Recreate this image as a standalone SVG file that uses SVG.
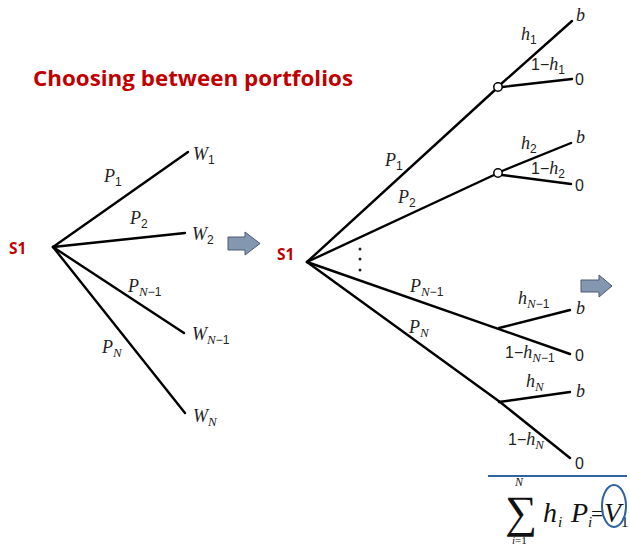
<svg xmlns="http://www.w3.org/2000/svg" width="630" height="547" viewBox="0 0 630 547">
<style>
.ln{stroke:#000;stroke-width:2.4;fill:none;stroke-linecap:round}
.v{font-family:"Liberation Serif",serif;font-style:italic;font-size:18px;fill:#222}
.s{font-size:13px}
.d{font-family:"Liberation Sans",sans-serif;font-style:normal;font-size:12px}
.n{font-family:"Liberation Sans",sans-serif;font-size:16px;fill:#222}
.red{font-family:"Open Sans","Liberation Sans",sans-serif;font-weight:bold;fill:#c00000}
.arr{fill:#8497b0;stroke:#4a5a70;stroke-width:1}
.f{font-family:"Liberation Serif",serif;fill:#111}
</style>
<rect width="630" height="547" fill="#fff"/>
<text class="red" x="33" y="86" font-size="21.5" textLength="320" lengthAdjust="spacingAndGlyphs">Choosing between portfolios</text>

<g id="left-tree">
<text class="red" x="9" y="254" font-size="15.5">S1</text>
<g id="connectors-left">
<line class="ln" x1="53" y1="247" x2="188" y2="152"/>
<line class="ln" x1="53" y1="247" x2="185" y2="233"/>
<line class="ln" x1="53" y1="247" x2="184" y2="333"/>
<line class="ln" x1="53" y1="247" x2="185" y2="413"/>
</g>
<text class="v" x="104" y="182">P<tspan class="d" dy="4">1</tspan></text>
<text class="v" x="130" y="224">P<tspan class="d" dy="4">2</tspan></text>
<text class="v" x="128" y="292">P<tspan class="s" dy="4">N</tspan><tspan class="d">−1</tspan></text>
<text class="v" x="102" y="353">P<tspan class="s" dy="4">N</tspan></text>
<text class="v" x="193" y="160">W<tspan class="d" dy="4">1</tspan></text>
<text class="v" x="192" y="240">W<tspan class="d" dy="4">2</tspan></text>
<text class="v" x="192" y="340">W<tspan class="s" dy="4">N</tspan><tspan class="d">−1</tspan></text>
<text class="v" x="193" y="422">W<tspan class="s" dy="4">N</tspan></text>
</g>

<g id="arrow1"><path class="arr" d="M228,237 H245 V232 L260,243.5 L245,255 V250 H228 Z"/></g>

<g id="right-tree">
<text class="red" x="277" y="260" font-size="15.5">S1</text>
<g id="connectors-right">
<line class="ln" x1="307" y1="262" x2="495" y2="90"/>
<line class="ln" x1="501" y1="84" x2="572" y2="21"/>
<line class="ln" x1="502" y1="87" x2="572" y2="79"/>
<line class="ln" x1="307" y1="262" x2="494" y2="175"/>
<line class="ln" x1="502" y1="171" x2="571" y2="143"/>
<line class="ln" x1="502" y1="175" x2="571" y2="184"/>
<line class="ln" x1="307" y1="262" x2="570" y2="354"/>
<line class="ln" x1="499" y1="328" x2="570" y2="310"/>
<line class="ln" x1="307" y1="262" x2="500" y2="402"/>
<line class="ln" x1="500" y1="402" x2="570" y2="458"/>
<line class="ln" x1="499" y1="402" x2="570" y2="392"/>
</g>
<circle cx="498" cy="87" r="4.2" fill="#fff" stroke="#000" stroke-width="1.5"/>
<circle cx="498" cy="173" r="4.2" fill="#fff" stroke="#000" stroke-width="1.5"/>
<circle cx="360" cy="249" r="1.5" fill="#222"/>
<circle cx="360" cy="259" r="1.5" fill="#222"/>
<circle cx="360" cy="270" r="1.5" fill="#222"/>
<text class="v" x="385" y="166">P<tspan class="d" dy="4">1</tspan></text>
<text class="v" x="398" y="203">P<tspan class="d" dy="4">2</tspan></text>
<text class="v" x="410" y="292">P<tspan class="s" dy="4">N</tspan><tspan class="d">−1</tspan></text>
<text class="v" x="409" y="333">P<tspan class="s" dy="4">N</tspan></text>
<text class="v" x="521" y="40">h<tspan class="d" dy="4">1</tspan></text>
<text class="n" x="531" y="70">1−<tspan font-family="Liberation Serif" font-style="italic" font-size="18">h</tspan><tspan class="d" dy="4">1</tspan></text>
<text class="v" x="576" y="21">b</text>
<text class="n" x="575" y="85">0</text>
<text class="v" x="521" y="149">h<tspan class="d" dy="4">2</tspan></text>
<text class="n" x="531" y="174">1−<tspan font-family="Liberation Serif" font-style="italic" font-size="18">h</tspan><tspan class="d" dy="4">2</tspan></text>
<text class="v" x="576" y="143">b</text>
<text class="n" x="575" y="191">0</text>
<text class="v" x="518" y="304">h<tspan class="s" dy="4">N</tspan><tspan class="d">−1</tspan></text>
<text class="v" x="576" y="314">b</text>
<text class="n" x="505" y="358">1−<tspan font-family="Liberation Serif" font-style="italic" font-size="18">h</tspan><tspan class="s" dy="4" font-family="Liberation Serif" font-style="italic">N</tspan><tspan class="d">−1</tspan></text>
<text class="n" x="575" y="361">0</text>
<text class="v" x="526" y="387">h<tspan class="s" dy="4">N</tspan></text>
<text class="v" x="576" y="397">b</text>
<text class="n" x="508" y="445">1−<tspan font-family="Liberation Serif" font-style="italic" font-size="18">h</tspan><tspan class="s" dy="4" font-family="Liberation Serif" font-style="italic">N</tspan></text>
<text class="n" x="575" y="469">0</text>
</g>

<g id="arrow2"><path class="arr" d="M581,280 H599 V275 L612,286 L599,297 V292 H581 Z"/></g>

<g id="formula">
<line x1="488" y1="476" x2="627" y2="476" stroke="#2e63a0" stroke-width="2"/>
<text class="f" x="515" y="486" font-style="italic" font-size="12">N</text>
<text class="f" x="505" y="527" font-size="45">∑</text>
<text class="f" x="512" y="544" font-size="11"><tspan font-style="italic">i</tspan>=1</text>
<text class="f" x="543" y="522" font-style="italic" font-size="28">h</text>
<text class="f" x="558" y="527" font-style="italic" font-size="15">i</text>
<text class="f" x="571" y="522" font-style="italic" font-size="28">P</text>
<text class="f" x="588" y="527" font-style="italic" font-size="15">i</text>
<text class="f" x="591" y="521" font-size="22">=</text>
<text class="f" x="604" y="522" font-style="italic" font-size="28">V</text>
<text class="f" x="621" y="527" font-size="15">1</text>
<ellipse cx="614" cy="506" rx="12" ry="21" fill="none" stroke="#2e63a0" stroke-width="2"/>
</g>
</svg>
